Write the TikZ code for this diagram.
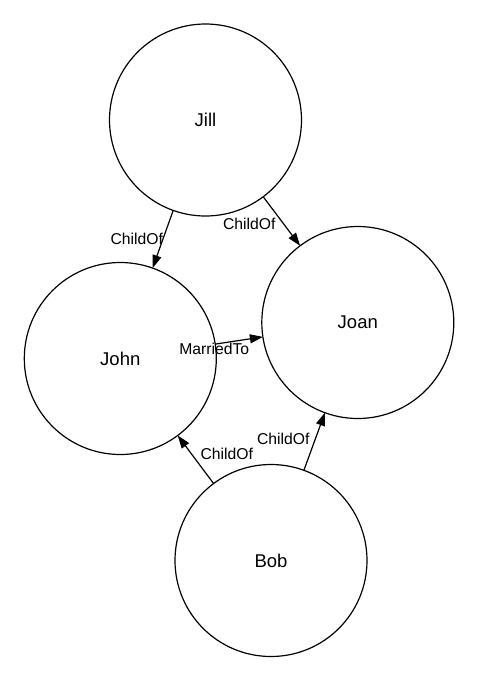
\documentclass[tikz,border=0pt]{standalone}
\usepackage{fontspec}
\setmainfont{Liberation Sans}
\usetikzlibrary{arrows.meta}
\begin{document}
\begin{tikzpicture}[x=1pt,y=-1pt,
  person/.style={circle, draw, line width=1.2pt, minimum size=192pt, inner sep=0pt, outer sep=0pt, font=\fontsize{18.5}{22}\selectfont},
  rel/.style={line width=1.2pt, -{Triangle[length=13pt,width=9pt]}},
  lbl/.style={font=\fontsize{15.7}{19}\selectfont, inner sep=0pt}]
\useasboundingbox[fill=white] (0,0) rectangle (478,681);
\node[person] (jill) at (205.5,120) {Jill};
\node[person] (john) at (120.3,358.5) {John};
\node[person] (joan) at (357.8,322.5) {Joan};
\node[person] (bob)  at (271,560.5) {Bob};
\draw[rel] (jill) -- (john) node[lbl, pos=0.5, xshift=-26.2pt, yshift=0pt] (l1) {ChildOf};
\draw[rel] (jill) -- (joan) node[lbl, pos=0.5, xshift=-32.4pt, yshift=-2.8pt] (l2) {ChildOf};
\draw[rel] (john) -- (joan) node[lbl, pos=0.5, xshift=-24.75pt, yshift=-8.8pt] (l3) {MarriedTo};
\draw[rel] (bob) -- (john) node[lbl, pos=0.5, xshift=31.05pt, yshift=5.5pt] (l4) {ChildOf};
\draw[rel] (bob) -- (joan) node[lbl, pos=0.5, xshift=-31.1pt, yshift=2.5pt] (l5) {ChildOf};
\end{tikzpicture}
\end{document}
